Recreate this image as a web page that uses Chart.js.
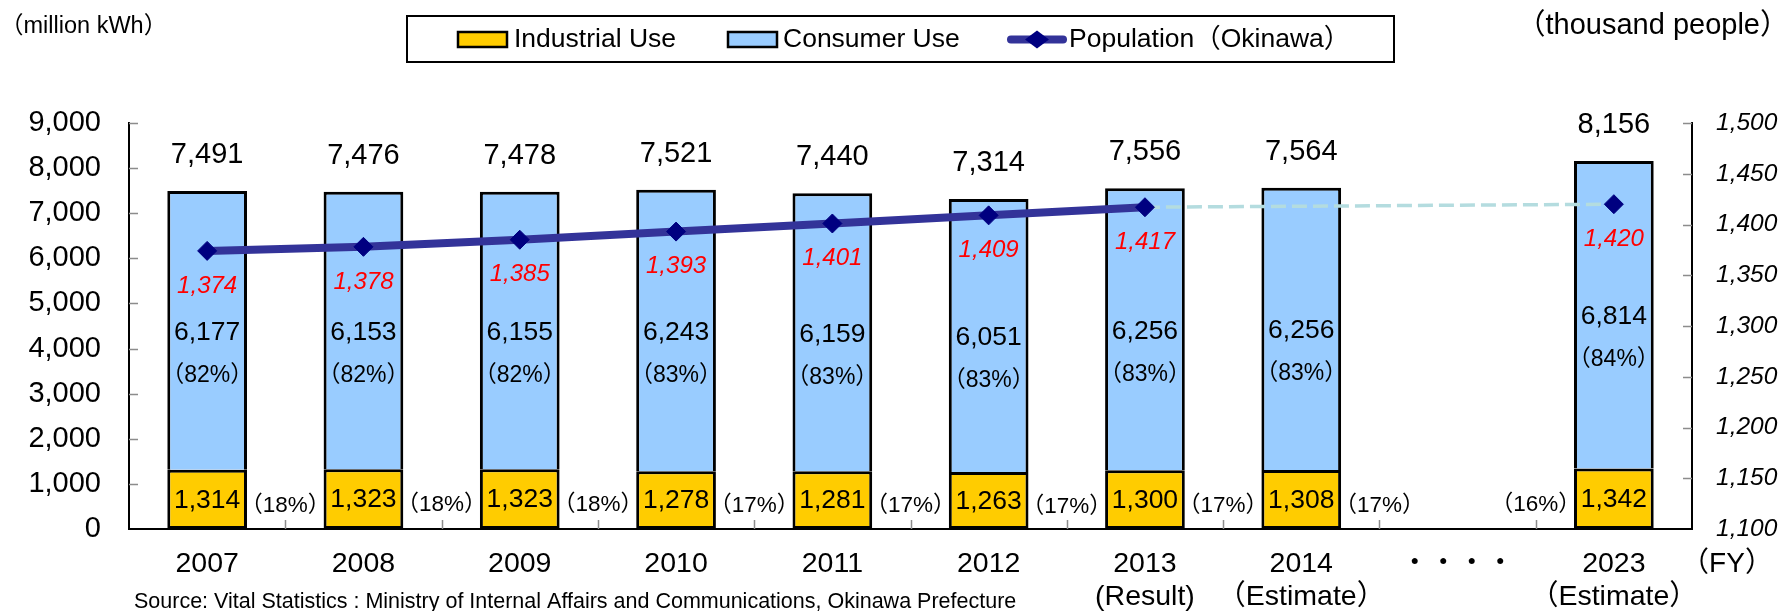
<!DOCTYPE html>
<html>
<head>
<meta charset="utf-8">
<script src="https://cdn.jsdelivr.net/npm/chart.js@4.4.1/dist/chart.umd.min.js"></script>
<style>
  html, body { margin: 0; padding: 0; background: #fff; }
  #wrap { width: 1785px; height: 611px; position: relative; }
</style>
</head>
<body>
<div id="wrap"><canvas id="chart" width="1785" height="611"></canvas></div>
<script>
const FONT = "'Liberation Sans', Arial, 'Noto Sans CJK JP', sans-serif";

// data
const categories = ["2007", "2008", "2009", "2010", "2011", "2012", ["2013", "(Result)"], ["2014", "（Estimate）"], "・・・・", ["2023", "（Estimate）"]];
const industrial = [1314, 1323, 1323, 1278, 1281, 1263, 1300, 1308, null, 1342];
const consumer = [6177, 6153, 6155, 6243, 6159, 6051, 6256, 6256, null, 6814];
const totals = [7491, 7476, 7478, 7521, 7440, 7314, 7556, 7564, null, 8156];
const industrialPct = [18, 18, 18, 17, 17, 17, 17, 17, null, 16];
const consumerPct = [82, 82, 82, 83, 83, 83, 83, 83, null, 84];
const population = [1374, 1378, 1385, 1393, 1401, 1409, 1417, null, null, null];
const populationEstimate = [null, null, null, null, null, null, 1417, null, null, 1420];

const fmt = v => v.toLocaleString("en-US");

const extras = {
  id: "extras",
  afterDatasetsDraw(chart) {
    const c = chart.ctx;
    const area = chart.chartArea;
    const x = chart.scales.x;
    const y = chart.scales.y;
    const y2 = chart.scales.y2;
    const step = x.getPixelForValue(1) - x.getPixelForValue(0);

    // small inward tick marks
    c.save();
    c.strokeStyle = "#8c8c8c";
    c.lineWidth = 1.5;
    c.beginPath();
    for (let v = 1000; v <= 9000; v += 1000) {
      const py = Math.round(y.getPixelForValue(v)) + 0.5;
      c.moveTo(area.left, py); c.lineTo(area.left + 9, py);
    }
    for (let v = 1150; v <= 1500; v += 50) {
      const py = Math.round(y2.getPixelForValue(v)) + 0.5;
      c.moveTo(area.right - 9, py); c.lineTo(area.right, py);
    }
    for (let i = 1; i < categories.length; i++) {
      const px = Math.round(x.getPixelForValue(i) - step / 2) + 0.5;
      c.moveTo(px, area.bottom); c.lineTo(px, area.bottom - 9);
    }
    c.stroke();
    c.restore();

    // value labels
    const indMeta = chart.getDatasetMeta(2);
    const conMeta = chart.getDatasetMeta(3);
    c.save();
    c.textAlign = "center";
    c.textBaseline = "middle";
    c.fillStyle = "#000";
    totals.forEach((t, i) => {
      if (t == null) return;
      const ib = indMeta.data[i];
      const cb = conMeta.data[i];
      c.font = "29px " + FONT;
      c.fillText(fmt(t), cb.x, cb.y - 36);
      const cMid = (cb.y + cb.base) / 2;
      c.font = "26.5px " + FONT;
      c.fillText(fmt(consumer[i]), cb.x, cMid + 2);
      c.font = "23px " + FONT;
      c.fillText("（" + consumerPct[i] + "%）", cb.x, cMid + 45);
      const iMid = (ib.y + ib.base) / 2;
      c.font = "26.5px " + FONT;
      c.fillText(fmt(industrial[i]), ib.x, iMid + 1);
      c.font = "22.5px " + FONT;
      const side = i === categories.length - 1 ? -1 : 1;
      c.fillText("（" + industrialPct[i] + "%）", ib.x + side * step / 2, iMid + 6);
    });
    c.fillStyle = "#ff0000";
    c.font = "italic 24px " + FONT;
    const popAll = population.map((p, i) => p != null ? p : populationEstimate[i]);
    popAll.forEach((p, i) => {
      if (p == null) return;
      const px = x.getPixelForValue(i);
      const py = y2.getPixelForValue(p);
      c.fillText(fmt(p), px, py + 35);
    });
    c.restore();
  },
  afterDraw(chart) {
    const c = chart.ctx;
    c.save();
    c.fillStyle = "#000";
    c.textBaseline = "middle";

    // unit titles
    c.textAlign = "left";
    c.font = "23.5px " + FONT;
    c.fillText("（million kWh）", 0, 27);
    c.textAlign = "right";
    c.font = "29px " + FONT;
    c.fillText("（thousand people）", 1789, 26);

    // FY marker and source
    c.textAlign = "center";
    c.font = "28px " + FONT;
    c.fillText("（FY）", 1727, 564);
    c.textAlign = "left";
    c.font = "21.5px " + FONT;
    c.fillText("Source: Vital Statistics : Ministry of Internal Affairs and Communications, Okinawa Prefecture", 134, 602);

    // legend
    c.strokeStyle = "#000";
    c.lineWidth = 2;
    c.strokeRect(407, 16, 987, 46);
    c.lineWidth = 2.5;
    c.fillStyle = "#FFCC00";
    c.fillRect(458, 32, 49, 15);
    c.strokeRect(458, 32, 49, 15);
    c.fillStyle = "#99CCFF";
    c.fillRect(728, 32, 49, 15);
    c.strokeRect(728, 32, 49, 15);
    c.strokeStyle = "#333399";
    c.lineWidth = 8;
    c.lineCap = "round";
    c.beginPath();
    c.moveTo(1011, 39.5); c.lineTo(1063, 39.5);
    c.stroke();
    c.fillStyle = "#000080";
    c.beginPath();
    c.moveTo(1025, 39.5); c.lineTo(1037, 30.5); c.lineTo(1049, 39.5); c.lineTo(1037, 48.5);
    c.closePath();
    c.fill();
    c.fillStyle = "#000";
    c.font = "26.5px " + FONT;
    c.fillText("Industrial Use", 514, 40);
    c.fillText("Consumer Use", 783, 40);
    c.fillText("Population（Okinawa）", 1069, 40);
    c.restore();
  }
};

new Chart(document.getElementById("chart"), {
  type: "bar",
  data: {
    labels: categories,
    datasets: [
      {
        type: "line",
        label: "Population（Okinawa）",
        data: population,
        yAxisID: "y2",
        borderColor: "#333399",
        borderWidth: 8,
        pointStyle: "rectRot",
        pointRadius: 9.5,
        pointBackgroundColor: "#000080",
        pointBorderColor: "#000080",
        pointBorderWidth: 1,
        spanGaps: false,
        order: 0
      },
      {
        type: "line",
        label: "Population estimate",
        data: populationEstimate,
        yAxisID: "y2",
        borderColor: "#B4DCDF",
        borderWidth: 3.5,
        borderDash: [15, 6],
        pointStyle: "rectRot",
        pointRadius: ctx => ctx.dataIndex === 9 ? 9.5 : 0,
        pointBackgroundColor: "#000080",
        pointBorderColor: "#000080",
        pointBorderWidth: 1,
        spanGaps: true,
        order: 1
      },
      {
        label: "Industrial Use",
        data: industrial,
        backgroundColor: "#FFCC00",
        borderColor: "#000",
        borderWidth: 3,
        borderSkipped: false,
        order: 2
      },
      {
        label: "Consumer Use",
        data: consumer,
        backgroundColor: "#99CCFF",
        borderColor: "#000",
        borderWidth: 3,
        borderSkipped: "bottom",
        order: 2
      }
    ]
  },
  options: {
    responsive: false,
    animation: false,
    events: [],
    barPercentage: 0.51,
    categoryPercentage: 1.0,
    layout: { padding: { top: 123, left: 0, right: 0, bottom: 0 } },
    plugins: { legend: { display: false }, tooltip: { enabled: false } },
    scales: {
      x: {
        stacked: true,
        grid: { display: false, drawTicks: false },
        border: { display: true, color: "#000", width: 2 },
        ticks: { color: "#000", font: { size: 28.5, family: FONT, lineHeight: 1.17 }, padding: 18, autoSkip: false, maxRotation: 0 },
        afterFit: s => { s.height = 82; }
      },
      y: {
        stacked: true,
        min: 0,
        max: 9000,
        grid: { display: false, drawTicks: false },
        border: { display: true, color: "#000", width: 2 },
        ticks: { stepSize: 1000, color: "#000", font: { size: 29, family: FONT }, padding: 28, callback: v => fmt(v) },
        afterFit: s => { s.width = 129; }
      },
      y2: {
        position: "right",
        min: 1100,
        max: 1500,
        grid: { display: false, drawTicks: false },
        border: { display: true, color: "#000", width: 2 },
        ticks: { stepSize: 50, color: "#000", font: { size: 24.5, family: FONT, style: "italic" }, padding: 24, callback: v => fmt(v) },
        afterFit: s => { s.width = 93; }
      }
    }
  },
  plugins: [extras]
});
</script>
</body>
</html>
